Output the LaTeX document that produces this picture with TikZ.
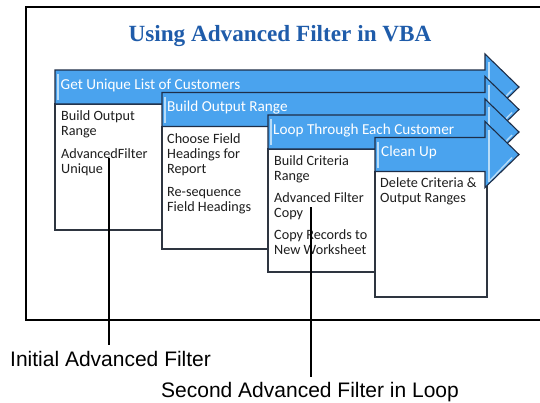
\documentclass[tikz,border=0pt]{standalone}
\usepackage{fontspec}
\setmainfont{Liberation Sans}
\newfontfamily\calfont{Carlito}
\newfontfamily\ttlfont{Liberation Serif}
\definecolor{barblue}{HTML}{4AA3EE}
\definecolor{barline}{HTML}{1E2E48}
\definecolor{barhi}{HTML}{B8DCF8}
\definecolor{boxline}{HTML}{2E3540}
\definecolor{titleblue}{HTML}{1F5CAA}
\definecolor{bodyink}{HTML}{1E1E1E}
\tikzset{
  frameline/.style={draw=black, line width=1.1pt},
  barshape/.style={fill=barblue, draw=barline, line width=1.1pt, line join=miter},
  bodybox/.style={fill=white, draw=boxline, line width=1.1pt},
  hiline/.style={draw=barhi, line width=1.4pt},
  bartext/.style={text=white, font=\calfont\fontsize{15.2}{17}\selectfont, anchor=base west, inner sep=0pt},
  bodytext/.style={text=bodyink, font=\calfont\fontsize{14.2}{15}\selectfont, anchor=north west, align=left, inner sep=0pt},
  calltext/.style={text=black, font=\fontsize{21}{24}\selectfont, anchor=base west, inner sep=0pt},
  callline/.style={draw=black, line width=2.2pt}
}
\newcommand{\stepshape}[4]{% #1 left, #2 top, #3 body bottom, #4 name
  \path[bodybox] (#1,#2+34) rectangle (#1+112,#3);
  \path[barshape] (#1,#2) -- (485,#2) -- (485,#2+17-33) -- (519,#2+17) -- (485,#2+17+33) -- (485,#2+34) -- (#1,#2+34) -- cycle;
  \draw[hiline] (#1+3,#2+4) -- (#1+3,#2+30);
  \draw[hiline] (489,#2+17-25) -- (489,#2+17+27);
  \draw[hiline] (512,#2+17+3) -- (490,#2+17+26);
  \coordinate (#4) at (#1,#2);
}
\begin{document}
\begin{tikzpicture}[x=1pt,y=-1pt]
\useasboundingbox[fill=white] (0,0) rectangle (540,402);
% outer frame
\draw[frameline] (546,7) -- (26,7) -- (26,320) -- (546,320);
% title
\node[text=titleblue, font=\ttlfont\bfseries\fontsize{23.2}{27}\selectfont, anchor=base, inner sep=0pt] (title) at (280,41) {Using Advanced Filter in VBA};
% steps
\stepshape{55}{70}{230}{s1}
\node[bartext] (b1) at (60.5,89) {Get Unique List of Customers};
\node[bodytext] (t1) at (61,110.5) {Build Output\\Range\\[8pt]AdvancedFilter\\Unique};
\stepshape{162}{92.5}{249}{s2}
\node[bartext] (b2) at (167,111.5) {Build Output Range};
\node[bodytext] (t2) at (167,133.5) {Choose Field\\Headings for\\Report\\[8pt]Re-sequence\\Field Headings};
\stepshape{268}{115}{272}{s3}
\node[bartext] (b3) at (273,134) {Loop Through Each Customer};
\node[bodytext] (t3) at (274,155.5) {Build Criteria\\Range\\[7pt]Advanced Filter\\Copy\\[7pt]Copy Records to\\New Worksheet};
\stepshape{375}{137.5}{297}{s4}
\node[bartext] (b4) at (381,156.5) {Clean Up};
\node[bodytext] (t4) at (380,177.5) {Delete Criteria \&\\Output Ranges};
% callouts
\node[calltext] (c1) at (10,366) {Initial Advanced Filter};
\node[calltext] (c2) at (161,397) {Second Advanced Filter in Loop};
\coordinate (p1) at (109,158);
\coordinate (q1) at (109,345);
\coordinate (p2) at (311,207);
\coordinate (q2) at (311,377);
\draw[callline] (p1) -- (q1);
\draw[callline] (p2) -- (q2);
\end{tikzpicture}
\end{document}
